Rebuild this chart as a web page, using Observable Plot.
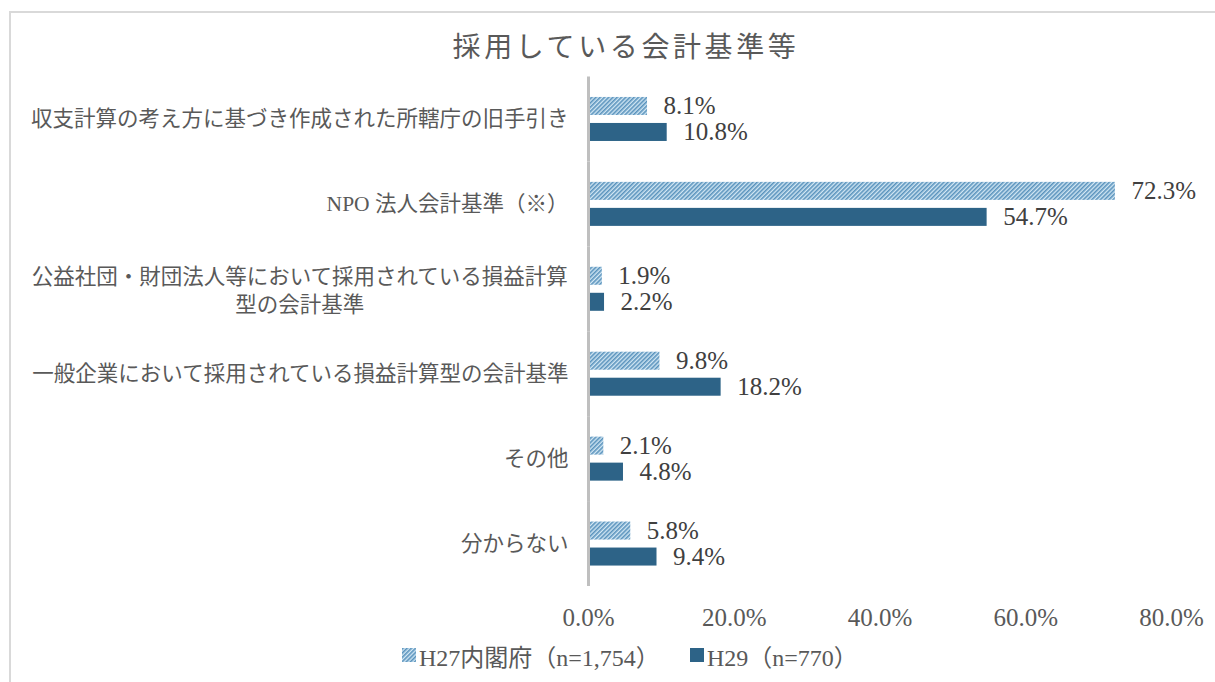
<!DOCTYPE html>
<html>
<head>
<meta charset="utf-8">
<script src="https://cdn.jsdelivr.net/npm/d3@7"></script>
<script src="https://cdn.jsdelivr.net/npm/@observablehq/plot@0.6"></script>
<style>
  html, body { margin: 0; padding: 0; background: #fff; overflow: hidden; }
  body { width: 1215px; height: 682px; position: relative; }
  #frame { position: absolute; left: 9px; top: 11px; width: 1300px; height: 800px;
           border-left: 2px solid #d9d9d9; border-top: 2px solid #d9d9d9; box-sizing: border-box; }
  #title { position: absolute; top: 25px; left: 626px; transform: translateX(-50%);
           font-family: "Noto Sans CJK JP", sans-serif; font-size: 28px; letter-spacing: 3.6px;
           color: #595959; white-space: nowrap; font-weight: 400; }
  #chart { position: absolute; left: 0; top: 60px; }
  #legend { position: absolute; top: 640px; left: 0; width: 1215px; height: 30px;
            font-family: "Liberation Serif", "Noto Sans CJK JP", serif; font-size: 24px; color: #595959; }
  .item { position: absolute; top: 0; display: flex; align-items: center; height: 30px; white-space: nowrap; }
  .item svg { margin-right: 3px; }
</style>
</head>
<body>
<div id="frame"></div>
<div id="title"></div>
<div id="chart"></div>
<div id="legend"></div>
<script>
const titleText = "採用している会計基準等";
const categories = [
  "収支計算の考え方に基づき作成された所轄庁の旧手引き",
  "NPO 法人会計基準（※）",
  "公益社団・財団法人等において採用されている損益計算\n型の会計基準",
  "一般企業において採用されている損益計算型の会計基準",
  "その他",
  "分からない"
];
const seriesNames = ["H27内閣府（n=1,754）", "H29（n=770）"];
const h27 = [8.1, 72.3, 1.9, 9.8, 2.1, 5.8];
const h29 = [10.8, 54.7, 2.2, 18.2, 4.8, 9.4];
const xTicks = [0, 20, 40, 60, 80];

const solidColor = "#2d6387";
const data = [];
categories.forEach((c, i) => {
  data.push({category: c, series: seriesNames[0], value: h27[i]});
  data.push({category: c, series: seriesNames[1], value: h29[i]});
});

document.getElementById("title").textContent = titleText;

const NS = "http://www.w3.org/2000/svg";
function makePattern(id) {
  const defs = document.createElementNS(NS, "defs");
  const p = document.createElementNS(NS, "pattern");
  p.setAttribute("id", id);
  p.setAttribute("patternUnits", "userSpaceOnUse");
  p.setAttribute("width", "3");
  p.setAttribute("height", "3");
  p.setAttribute("patternTransform", "rotate(45)");
  const bg = document.createElementNS(NS, "rect");
  bg.setAttribute("width", "3"); bg.setAttribute("height", "3"); bg.setAttribute("fill", "#d2e7f4");
  const ln = document.createElementNS(NS, "rect");
  ln.setAttribute("width", "1.6"); ln.setAttribute("height", "3"); ln.setAttribute("fill", "#5a93bd");
  p.appendChild(bg); p.appendChild(ln); defs.appendChild(p);
  return defs;
}

const labelFs = 21.5;
const numFont = "Liberation Serif, serif";
const single = categories.filter(c => !c.includes("\n"));
const multi = categories.filter(c => c.includes("\n"));
const firstLineLen = multi.length ? multi[0].split("\n")[0].length : 0;

const chart = Plot.plot({
  width: 1215,
  height: 576,
  marginLeft: 588,
  marginRight: 44,
  marginTop: 16.5,
  marginBottom: 50,
  style: {background: "transparent", overflow: "visible"},
  x: {domain: [0, 80], axis: null},
  y: {domain: seriesNames, axis: null, paddingInner: 0.3077, paddingOuter: 0.786, round: false},
  fy: {domain: categories, axis: null, padding: 0, round: false},
  color: {domain: seriesNames, range: ["url(#hatch27)", solidColor]},
  marks: [
    () => makePattern("hatch27"),
    Plot.barX(data, {x: "value", y: "series", fy: "category", fill: "series"}),
    Plot.ruleX([0], {stroke: "#bfbfbf", strokeWidth: 3}),
    Plot.text(data, {x: "value", y: "series", fy: "category", text: d => d.value.toFixed(1) + "%",
      textAnchor: "start", dx: 16, fontSize: 25, fontFamily: numFont, fill: "#404040"}),
    Plot.text(single, {fy: d => d, text: d => d, frameAnchor: "left", textAnchor: "end", dx: -20,
      fontSize: labelFs, fontFamily: "Liberation Serif, Noto Sans CJK JP, sans-serif", fill: "#595959"}),
    Plot.text(multi, {fy: d => d, text: d => d, frameAnchor: "left", textAnchor: "middle",
      dx: -20 - firstLineLen * labelFs / 2, lineHeight: 1.27,
      fontSize: labelFs, fontFamily: "Liberation Serif, Noto Sans CJK JP, sans-serif", fill: "#595959"}),
    Plot.axisX({ticks: xTicks, tickFormat: d => d.toFixed(1) + "%", tickSize: 0, tickPadding: 22,
      label: null, fontSize: 25, fontFamily: numFont, fill: "#595959", stroke: null})
  ]
});
document.getElementById("chart").appendChild(chart);

// legend
const legend = document.getElementById("legend");
const positions = [402, 690];
seriesNames.forEach((name, i) => {
  const item = document.createElement("div");
  item.className = "item";
  item.style.left = positions[i] + "px";
  const sw = document.createElementNS(NS, "svg");
  sw.setAttribute("width", "14"); sw.setAttribute("height", "14");
  if (i === 0) sw.appendChild(makePattern("hatchLegend"));
  const r = document.createElementNS(NS, "rect");
  r.setAttribute("width", "14"); r.setAttribute("height", "14");
  r.setAttribute("fill", i === 0 ? "url(#hatchLegend)" : solidColor);
  sw.appendChild(r);
  item.appendChild(sw);
  const t = document.createElement("span");
  t.textContent = name;
  item.appendChild(t);
  legend.appendChild(item);
});
</script>
</body>
</html>
